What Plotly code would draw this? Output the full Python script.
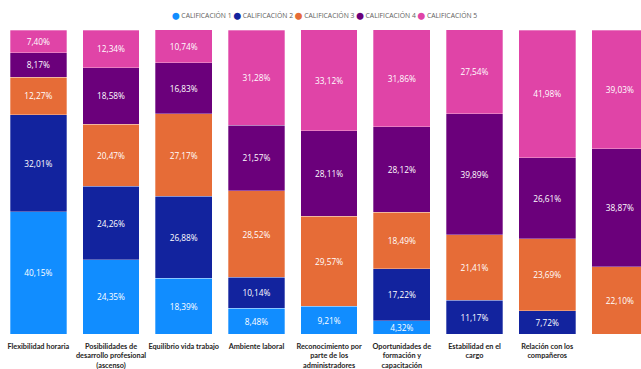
import plotly.graph_objects as go

categories = [
    "Flexibilidad horaria",
    "Posibilidades de<br>desarrollo profesional<br>(ascenso)",
    "Equilibrio vida trabajo",
    "Ambiente laboral",
    "Reconocimiento por<br>parte de los<br>administradores",
    "Oportunidades de<br>formación y<br>capacitación",
    "Estabilidad en el<br>cargo",
    "Relación con los<br>compañeros",
    "Sentido de<br>pertenencia a la<br>empresa",
]
series_names = ["CALIFICACIÓN 1", "CALIFICACIÓN 2", "CALIFICACIÓN 3", "CALIFICACIÓN 4", "CALIFICACIÓN 5"]
calif1 = [40.15, 24.35, 18.39, 8.48, 9.21, 4.32, None, None, None]
calif2 = [32.01, 24.26, 26.88, 10.14, None, 17.22, 11.17, 7.72, None]
calif3 = [12.27, 20.47, 27.17, 28.52, 29.57, 18.49, 21.41, 23.69, 22.10]
calif4 = [8.17, 18.58, 16.83, 21.57, 28.11, 28.12, 39.89, 26.61, 38.87]
calif5 = [7.40, 12.34, 10.74, 31.28, 33.12, 31.86, 27.54, 41.98, 39.03]
colors = ["#118DFF", "#12239E", "#E66C37", "#6B007B", "#E044A7"]

FONT = "Open Sans, Noto Sans, sans-serif"
fig = go.Figure()
idx = list(range(len(categories)))
for name, vals, col in zip(series_names, [calif1, calif2, calif3, calif4, calif5], colors):
    txt = ["" if v is None else f"{v:.2f}%".replace(".", ",") for v in vals]
    fig.add_trace(go.Bar(
        x=idx, y=vals, name=name,
        marker=dict(color=col, line=dict(color="rgba(255,255,255,0.6)", width=0.5)),
        text=txt, textposition="inside", insidetextanchor="middle",
        textfont=dict(color="white", size=8.3, family=FONT), textangle=0,
        showlegend=False, hoverinfo="skip",
    ))

legend_text = " ".join(
    f"<span style='color:{c};font-family:DejaVu Sans'>⬤</span> {n}" for n, c in zip(series_names, colors)
)
fig.add_annotation(
    text=legend_text, xref="paper", yref="paper", x=0.505, y=1.047,
    xanchor="center", yanchor="middle", showarrow=False,
    font=dict(size=6.8, color="#605E5C", family=FONT),
)

fig.update_layout(
    barmode="stack", bargap=0.22,
    width=641, height=369,
    margin=dict(l=2, r=0, t=30, b=35),
    plot_bgcolor="white", paper_bgcolor="white",
    font=dict(family=FONT),
    uniformtext=dict(mode="show", minsize=6),
    showlegend=False,
)
fig.update_xaxes(
    range=[-0.5, 8.29], tickmode="array", tickvals=idx,
    ticktext=[f"<b>{c}</b>" for c in categories],
    tickfont=dict(size=7.3, color="#252423", family="Lato, Open Sans, sans-serif"),
    tickangle=0, automargin=False,
    showgrid=False, zeroline=False, showline=False,
    ticks="outside", ticklen=5, tickcolor="rgba(0,0,0,0)",
)
fig.update_yaxes(range=[0, 100], visible=False, showgrid=False)

fig.write_html("out.html")
